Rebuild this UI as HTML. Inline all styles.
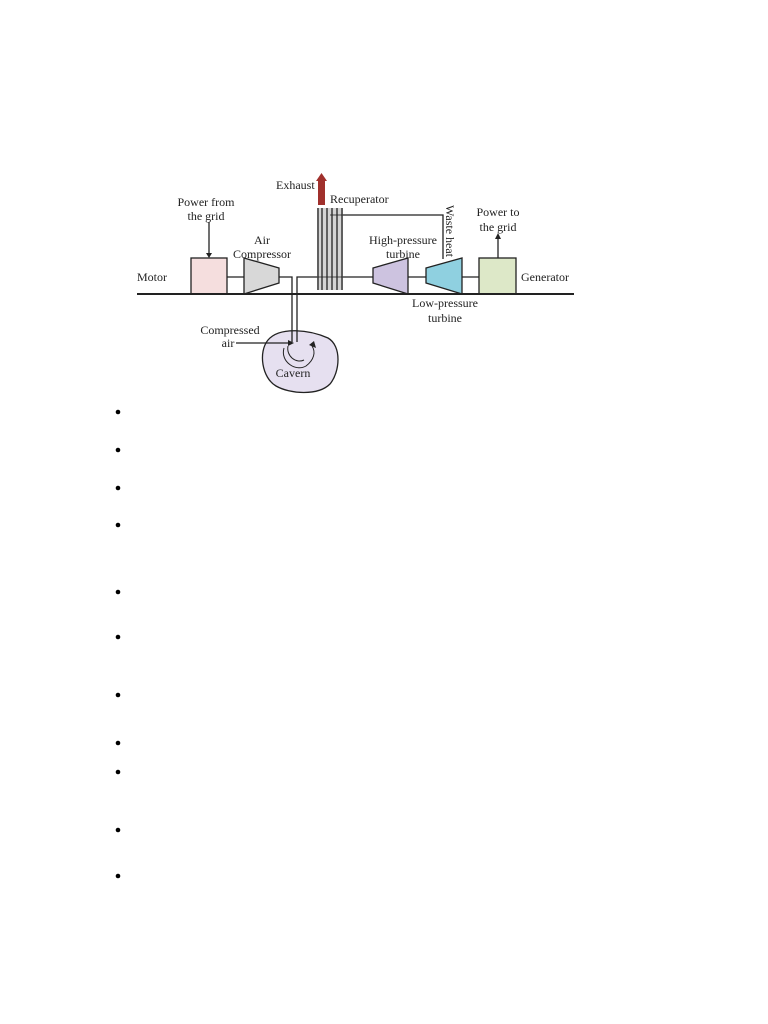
<!DOCTYPE html>
<html><head><style>
html,body{margin:0;padding:0;background:#fff;width:768px;height:1024px;overflow:hidden}
svg{position:absolute;left:0;top:0}
text{font-family:"Liberation Serif",serif;font-size:12px;fill:#222}
</style></head><body>
<svg width="768" height="1024" viewBox="0 0 768 1024">
<g stroke="#222" stroke-width="1.3" fill="none">
<path d="M268 340 C280 326 310 330 328 338 C342 346 340 372 330 384 C318 396 290 394 276 386 C262 378 258 352 268 340 Z" fill="#e6e0f0"/>
<path d="M284 348 C280 362 296 372 306 366 C314 360 316 352 312 346" stroke-width="1"/>
<path d="M288 346 C286 356 296 364 304 360" stroke-width="1"/>
<line x1="227" y1="277" x2="244" y2="277"/>
<polyline points="279,277 292,277 292,342"/>
<polyline points="297,342 297,277 373,277"/>
<line x1="408" y1="277" x2="426" y2="277"/>
<line x1="462" y1="277" x2="479" y2="277"/>
<polyline points="330,215 443,215 443,259"/>
<rect x="191" y="258" width="36" height="36" fill="#f5dede"/>
<rect x="479" y="258" width="37" height="36" fill="#dde8c8"/>
<polygon points="244,258 279,268 279,283 244,294" fill="#d8d8d8"/>
<polygon points="373,268 408,258 408,294 373,283" fill="#cdc3e0"/>
<polygon points="426,268 462,258 462,294 426,283" fill="#8fd0e0"/>
<rect x="317" y="208" width="26" height="82" fill="#aaa" fill-opacity="0.5" stroke="none"/>
<g stroke-width="1.3">
<line x1="318" y1="208" x2="318" y2="290"/><line x1="322" y1="208" x2="322" y2="290"/>
<line x1="327" y1="208" x2="327" y2="290"/><line x1="332" y1="208" x2="332" y2="290"/>
<line x1="337" y1="208" x2="337" y2="290"/><line x1="342" y1="208" x2="342" y2="290"/>
</g>
<line x1="137" y1="294" x2="574" y2="294" stroke-width="2"/>
<line x1="209" y1="222" x2="209" y2="254"/>
<line x1="498" y1="258" x2="498" y2="238"/>
<line x1="236" y1="343" x2="289" y2="343"/>
</g>
<polygon points="206,253 212,253 209,258" fill="#222"/>
<polygon points="495,239 501,239 498,233" fill="#222"/>
<polygon points="288,340 288,346 294,343" fill="#222"/>
<polygon points="309,345 314,341 316,348" fill="#222"/>
<rect x="318" y="180" width="7" height="25" fill="#a0302c"/>
<polygon points="316,181 327,181 321.5,173" fill="#a0302c"/>
<text x="276" y="189">Exhaust</text>
<text x="330" y="203">Recuperator</text>
<text x="206" y="206" text-anchor="middle">Power from</text>
<text x="206" y="220" text-anchor="middle">the grid</text>
<text x="262" y="244" text-anchor="middle">Air</text>
<text x="262" y="258" text-anchor="middle">Compressor</text>
<text x="137" y="281">Motor</text>
<text x="403" y="244" text-anchor="middle">High-pressure</text>
<text x="403" y="258" text-anchor="middle">turbine</text>
<text transform="translate(446,205) rotate(90)">Waste heat</text>
<text x="498" y="216" text-anchor="middle">Power to</text>
<text x="498" y="231" text-anchor="middle">the grid</text>
<text x="521" y="281">Generator</text>
<text x="445" y="307" text-anchor="middle">Low-pressure</text>
<text x="445" y="322" text-anchor="middle">turbine</text>
<text x="230" y="334" text-anchor="middle">Compressed</text>
<text x="228" y="347" text-anchor="middle">air</text>
<text x="293" y="377" text-anchor="middle">Cavern</text>
<g fill="#000">
<circle cx="118" cy="412" r="2.3"/><circle cx="118" cy="450" r="2.3"/>
<circle cx="118" cy="488" r="2.3"/><circle cx="118" cy="525" r="2.3"/>
<circle cx="118" cy="592" r="2.3"/><circle cx="118" cy="637" r="2.3"/>
<circle cx="118" cy="695" r="2.3"/><circle cx="118" cy="743" r="2.3"/>
<circle cx="118" cy="772" r="2.3"/><circle cx="118" cy="830" r="2.3"/>
<circle cx="118" cy="876" r="2.3"/>
</g>
</svg>
</body></html>
